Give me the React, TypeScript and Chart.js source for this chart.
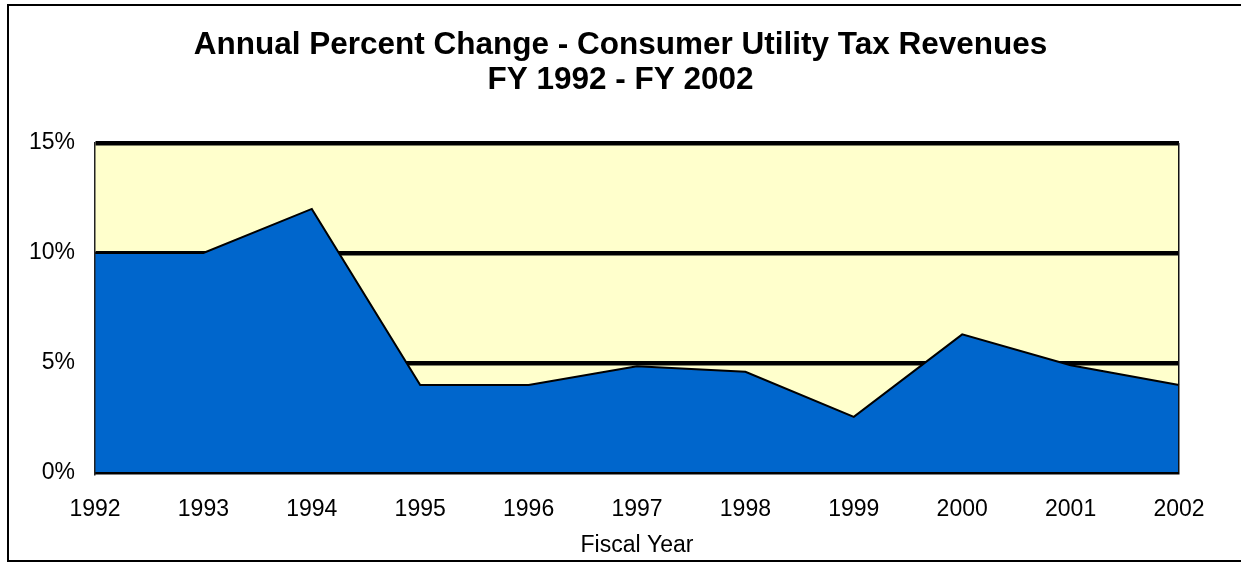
import React, { useEffect, useRef } from "react";
import { Chart, registerables } from "chart.js";

Chart.register(...registerables);

const years = ["1992", "1993", "1994", "1995", "1996", "1997", "1998", "1999", "2000", "2001", "2002"];
const pctChange = [10, 10, 12, 4, 4, 4.85, 4.6, 2.55, 6.3, 4.9, 4];
const yMin = 0;
const yMax = 15;
const yStep = 5;
const titleLines = ["Annual Percent Change - Consumer Utility Tax Revenues", "FY 1992 - FY 2002"];
const xTitle = "Fiscal Year";

const FONT = "'Liberation Sans', Arial, Helvetica, sans-serif";

const plotBg = {
  id: "plotBg",
  beforeDraw(chart: any) {
    const { ctx, chartArea } = chart;
    if (!chartArea) return;
    ctx.save();
    ctx.fillStyle = "#FFFFCC";
    ctx.fillRect(chartArea.left, chartArea.top, chartArea.right - chartArea.left, chartArea.bottom - chartArea.top);
    ctx.restore();
  },
};

export default function App() {
  const ref = useRef<HTMLCanvasElement | null>(null);

  useEffect(() => {
    document.body.style.margin = "0";
    document.body.style.overflow = "hidden";
    if (!ref.current) return;
    const chart = new Chart(ref.current, {
      type: "line",
      data: {
        labels: years,
        datasets: [
          {
            data: pctChange,
            borderColor: "#000000",
            borderWidth: 2,
            backgroundColor: "#0066CC",
            fill: "origin",
            pointRadius: 0,
            tension: 0,
            yAxisID: "y",
          },
        ],
      },
      plugins: [plotBg],
      options: {
        animation: false,
        responsive: true,
        maintainAspectRatio: false,
        layout: { padding: { left: 0, right: 0, top: 0, bottom: 0 } },
        plugins: {
          legend: { display: false },
          tooltip: { enabled: false },
          title: {
            display: true,
            text: titleLines,
            color: "#000",
            font: { family: FONT, size: 31.5, weight: "bold", lineHeight: 1.11 },
            padding: { top: 27.5, bottom: 45.5 },
          },
        },
        scales: {
          x: {
            offset: false,
            afterFit: (s: any) => {
              s.height = 90;
            },
            grid: {
              drawTicks: false,
              z: 1,
              lineWidth: 1.5,
              color: (c: any) => (c.index === years.length - 1 ? "#111" : "transparent"),
            },
            border: { display: true, color: "#000", width: 2.5, z: 1 },
            ticks: {
              color: "#000",
              padding: 23,
              maxRotation: 0,
              autoSkip: false,
              font: { family: FONT, size: 23 },
            },
            title: {
              display: true,
              text: xTitle,
              color: "#000",
              font: { family: FONT, size: 23 },
              padding: { top: 4, bottom: 4 },
            },
          },
          y: {
            min: yMin,
            max: yMax,
            afterFit: (s: any) => {
              s.width = 95;
            },
            grid: {
              drawTicks: false,
              lineWidth: 4.5,
              color: (c: any) => (c.tick && c.tick.value === 0 ? "transparent" : "#000"),
            },
            border: { display: true, color: "#222", width: 1.5, z: 1 },
            ticks: {
              stepSize: yStep,
              color: "#000",
              padding: 20,
              font: { family: FONT, size: 23 },
              callback: (v: any) => `${v}%`,
            },
          },
          yRight: {
            position: "right",
            display: true,
            min: yMin,
            max: yMax,
            afterFit: (s: any) => {
              s.width = 62;
            },
            grid: { display: false, drawTicks: false },
            border: { display: false },
            ticks: { display: false },
          },
        },
      },
    });
    return () => chart.destroy();
  }, []);

  return (
    <div style={{ position: "relative", width: 1241, height: 563, background: "#fff", overflow: "hidden" }}>
      <canvas ref={ref} />
      <div
        style={{
          position: "absolute",
          left: 7,
          top: 4,
          width: 1245,
          height: 558,
          border: "2px solid #000",
          boxSizing: "border-box",
          pointerEvents: "none",
        }}
      />
    </div>
  );
}
